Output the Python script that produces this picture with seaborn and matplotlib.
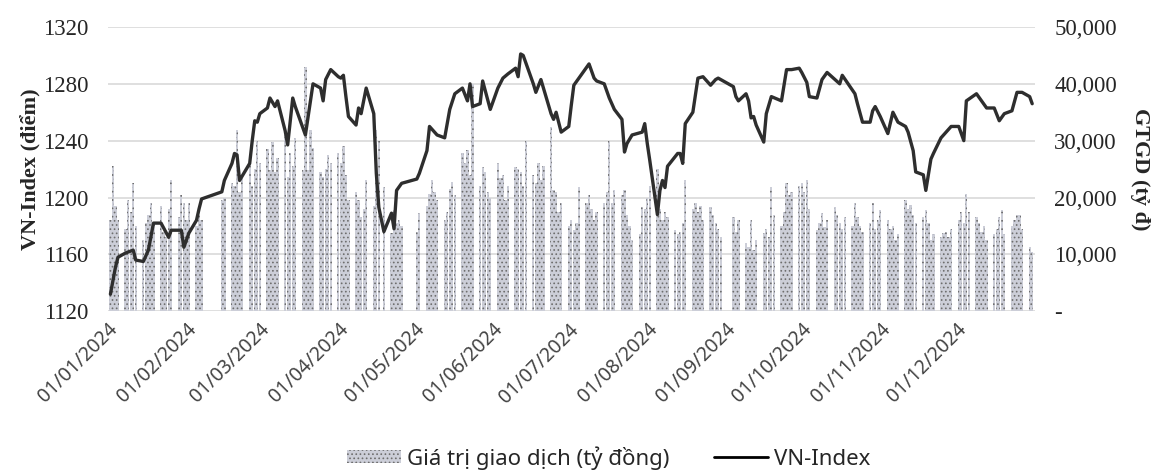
import numpy as np
import pandas as pd
import matplotlib
matplotlib.use("Agg")
import matplotlib.pyplot as plt
import matplotlib.dates as mdates
from matplotlib.ticker import FixedLocator, FuncFormatter
from matplotlib.patches import Patch
from matplotlib.lines import Line2D
import seaborn as sns

# VN-Index readings (date, points)
line_days = [
    "01-02", "01-04", "01-05", "01-08", "01-11", "01-12", "01-15", "01-17", "01-19", "01-22",
    "01-25", "01-26", "01-30", "01-31", "02-02", "02-05", "02-06", "02-07", "02-15", "02-16",
    "02-19", "02-20", "02-21", "02-22", "02-26", "02-27", "02-28", "02-29", "03-01", "03-04",
    "03-05", "03-07", "03-08", "03-11", "03-12", "03-14", "03-15", "03-19", "03-22", "03-25",
    "03-26", "03-27", "03-29", "04-01", "04-02", "04-03", "04-04", "04-05", "04-08", "04-09",
    "04-10", "04-12", "04-15", "04-16", "04-17", "04-19", "04-22", "04-23", "04-24", "04-26",
    "05-02", "05-03", "05-06", "05-07", "05-10", "05-13", "05-15", "05-17", "05-20", "05-22",
    "05-23", "05-24", "05-27", "05-28", "05-31", "06-03", "06-05", "06-07", "06-10", "06-11",
    "06-12", "06-13", "06-17", "06-18", "06-20", "06-24", "06-25", "06-26", "06-28", "07-01",
    "07-02", "07-03", "07-05", "07-09", "07-11", "07-12", "07-15", "07-17", "07-19", "07-22",
    "07-23", "07-24", "07-26", "07-30", "07-31", "08-01", "08-02", "08-05", "08-06", "08-07",
    "08-08", "08-09", "08-13", "08-14", "08-15", "08-16", "08-19", "08-21", "08-23", "08-26",
    "08-28", "08-29", "09-04", "09-05", "09-06", "09-09", "09-10", "09-11", "09-12", "09-13",
    "09-16", "09-17", "09-19", "09-23", "09-25", "09-27", "09-30", "10-01", "10-03", "10-04",
    "10-07", "10-09", "10-11", "10-16", "10-17", "10-22", "10-23", "10-25", "10-28", "10-29",
    "10-30", "11-01", "11-04", "11-06", "11-08", "11-11", "11-12", "11-14", "11-15", "11-18",
    "11-19", "11-21", "11-22", "11-25", "11-29", "12-02", "12-04", "12-05", "12-09", "12-13",
    "12-16", "12-18", "12-20", "12-23", "12-25", "12-27", "12-30", "12-31",
]
line_vals = [
    1132, 1151, 1158, 1161, 1163, 1156, 1155, 1163, 1182, 1182,
    1172, 1177, 1177, 1165, 1175, 1184, 1192, 1199, 1204, 1212,
    1224, 1231, 1230, 1212, 1224, 1240, 1254, 1253, 1259, 1263,
    1270, 1264, 1268, 1247, 1237, 1270, 1264, 1244, 1280, 1277,
    1268, 1283, 1290, 1285, 1284, 1286, 1271, 1257, 1251, 1263,
    1259, 1277, 1259, 1217, 1193, 1176, 1189, 1178, 1205, 1210,
    1213, 1217, 1233, 1250, 1244, 1242, 1262, 1273, 1277, 1268,
    1280, 1264, 1266, 1282, 1262, 1277, 1284, 1287, 1291, 1285,
    1301, 1300, 1280, 1274, 1283, 1259, 1255, 1260, 1246, 1250,
    1265, 1279, 1284, 1294, 1284, 1282, 1280, 1270, 1262, 1255,
    1232, 1238, 1244, 1246, 1252, 1238, 1226, 1188, 1205, 1212,
    1207, 1222, 1231, 1231, 1224, 1252, 1260, 1284, 1285, 1279,
    1283, 1284, 1278, 1271, 1268, 1273, 1268, 1256, 1257, 1251,
    1239, 1259, 1271, 1268, 1290, 1290, 1291, 1288, 1281, 1271,
    1270, 1283, 1288, 1280, 1286, 1273, 1266, 1253, 1253, 1261,
    1264, 1257, 1245, 1260, 1253, 1250, 1246, 1233, 1218, 1216,
    1205, 1227, 1231, 1242, 1250, 1250, 1240, 1268, 1273, 1263,
    1263, 1254, 1259, 1261, 1274, 1274, 1271, 1266,
]

# trading value (ty dong) per session, month by month
vol_jan = [16000, 25500, 18500, 16000, 14500, 19500, 17500, 22500, 15000, 12500, 15500,
           17000, 19000, 15500, 18500, 14000, 13000, 18000, 23000, 16500, 20500, 19000]
vol_feb = [16000, 19000, 15000, 17000, 16000,
           19500, 20000, 22500, 22000, 31900, 21000, 23600, 26600, 22000, 25000, 30000]
vol_mar = [26000, 28500, 24800, 29800, 24500, 27000, 31000, 23600, 27800, 25500, 30500,
           24800, 43000, 24800, 31800, 28700, 24500, 23600, 25000, 27500, 26000]
vol_apr = [27800, 26000, 29000, 24000, 19500, 21000, 19500, 16600, 18000, 23000,
           18500, 31800, 30000, 21900, 13700, 17800, 15500, 16000, 15000]
vol_may = [14000, 17200, 18500, 20700, 23000, 21000, 19500, 16000, 17500, 21500, 22800,
           20500, 27800, 26000, 28300, 24000, 40000, 22000, 25400, 24500, 21000, 20000]
vol_jun = [26000, 23500, 24000, 19500, 22000, 25400, 25000, 24500, 22000, 30000,
           24000, 22500, 26000, 23000, 25500, 32400, 21300, 21000, 17500, 19000]
vol_jul = [15000, 16000, 14300, 15500, 21900, 19000, 20500, 18000, 16000, 17500, 19000, 21000,
           30000, 19000, 21300, 20500, 21300, 17000, 15000, 12500, 13500, 18400, 18000]
vol_aug = [20000, 22000, 25000, 18000, 16000, 17500, 16500, 14300, 13500, 14000, 15500,
           23000, 18000, 19000, 17500, 18500, 16000, 18400, 17000, 15500, 14500, 13000]
vol_sep = [16600, 14000, 16000, 12000, 11300, 16000, 10700, 12500, 13700, 14500,
           13000, 21900, 17000, 15000, 17500, 22500, 20500, 21000, 22000]
vol_oct = [22500, 21000, 23000, 18000, 14300, 15500, 17200, 14800, 16000, 18400, 17000, 15500,
           14500, 16500, 15000, 19000, 16500, 15000, 14000, 15500, 19000, 14500, 16000]
vol_nov = [17800, 16000, 14500, 15000, 12500, 13500, 19500, 18000, 18700, 17000, 15500,
           16500, 17800, 15500, 12500, 13500, 13000, 13800, 14000, 13000, 14500]
vol_dec = [16000, 17500, 15500, 20700, 17500, 16500, 15500, 14000, 15000, 12500, 13500,
           14500, 16500, 17800, 13500, 15000, 16000, 17000, 16900, 14500, 11300, 10500]

holidays = ["2024-02-08", "2024-02-09", "2024-02-12", "2024-02-13", "2024-02-14",
            "2024-04-18", "2024-04-29", "2024-04-30", "2024-05-01",
            "2024-09-02", "2024-09-03"]

left_ticks = [1120, 1160, 1200, 1240, 1280, 1320]
right_ticks = [0, 10000, 20000, 30000, 40000, 50000]

volumes = (vol_jan + vol_feb + vol_mar + vol_apr + vol_may + vol_jun +
           vol_jul + vol_aug + vol_sep + vol_oct + vol_nov + vol_dec)
trade_days = pd.bdate_range("2024-01-02", "2024-12-31")
trade_days = trade_days[~trade_days.isin(pd.to_datetime(holidays))]
assert len(trade_days) == len(volumes)

df_line = pd.DataFrame({
    "date": pd.to_datetime(["2024-" + d for d in line_days]),
    "VN-Index": line_vals,
})

sns.set_theme(style="white")
serif = "Liberation Serif"
sans = "Noto Sans"
plt.rcParams["font.family"] = [sans, "DejaVu Sans"]
plt.rcParams["hatch.linewidth"] = 0.7

fig = plt.figure(figsize=(11.6, 4.73), dpi=100)
ax = fig.add_axes([0.093, 0.342, 0.799, 0.601])
ax2 = ax.twinx()

# bars on the right axis, line on the left axis drawn above them
bar_face = "#ccced8"
bar_hatch = "#6e6e6e"
ax2.bar(trade_days, volumes, width=0.9, color=bar_face, edgecolor=bar_hatch,
        hatch="....", linewidth=0, zorder=2)
ax2.set_ylim(0, 50000)
ax2.yaxis.set_major_locator(FixedLocator(right_ticks))
ax2.yaxis.set_major_formatter(FuncFormatter(lambda v, p: "-" if v == 0 else f"{int(v):,}"))
ax2.grid(axis="y", color="#d9d9d9", linewidth=1.2, zorder=0)
ax2.set_axisbelow(True)

ax.set_zorder(ax2.get_zorder() + 1)
ax.patch.set_visible(False)
sns.lineplot(data=df_line, x="date", y="VN-Index", ax=ax, color="#2e2e2e",
             linewidth=2.4, legend=False)
ax.set_ylim(1120, 1320)
ax.yaxis.set_major_locator(FixedLocator(left_ticks))
ax.grid(False)
ax.set_xlim(pd.Timestamp("2024-01-01"), pd.Timestamp("2025-01-01"))
ax.xaxis.set_major_locator(mdates.MonthLocator())
ax.xaxis.set_major_formatter(FuncFormatter(
    lambda v, p: mdates.num2date(v).strftime("%d/%m/%Y") if mdates.num2date(v).year == 2024 else ""))
ax2.set_xlim(ax.get_xlim())

for a in (ax, ax2):
    for s in a.spines.values():
        s.set_visible(False)
    a.tick_params(length=0)

for lab in ax.get_yticklabels():
    lab.set_fontfamily(serif)
    lab.set_fontsize(16.5)
for lab in ax2.get_yticklabels():
    lab.set_fontfamily(serif)
    lab.set_fontsize(16.5)
ax.tick_params(axis="y", pad=14)
ax2.tick_params(axis="y", pad=14)

for lab in ax.get_xticklabels():
    lab.set_rotation(45)
    lab.set_ha("right")
    lab.set_rotation_mode("anchor")
    lab.set_fontsize(14)
    lab.set_color("#444444")
ax.tick_params(axis="x", pad=6)

ax.set_xlabel("")
ax.set_ylabel("VN-Index (điểm)", fontfamily=serif, fontsize=16, fontweight="bold", labelpad=1)
ax2.set_ylabel("GTGD (tỷ đ)", fontfamily=serif, fontsize=16, fontweight="bold",
               rotation=270, labelpad=24)

handles = [
    Patch(facecolor=bar_face, edgecolor=bar_hatch, hatch="....", linewidth=0,
          label="Giá trị giao dịch (tỷ đồng)"),
    Line2D([0], [0], color="black", linewidth=2, label="VN-Index"),
]
fig.legend(handles=handles, loc="lower center", bbox_to_anchor=(0.525, -0.035), ncol=2,
           frameon=False, fontsize=16, handlelength=2.4, handleheight=0.55,
           handletextpad=0.3, columnspacing=2.0)

fig.savefig("out.png", dpi=100)
